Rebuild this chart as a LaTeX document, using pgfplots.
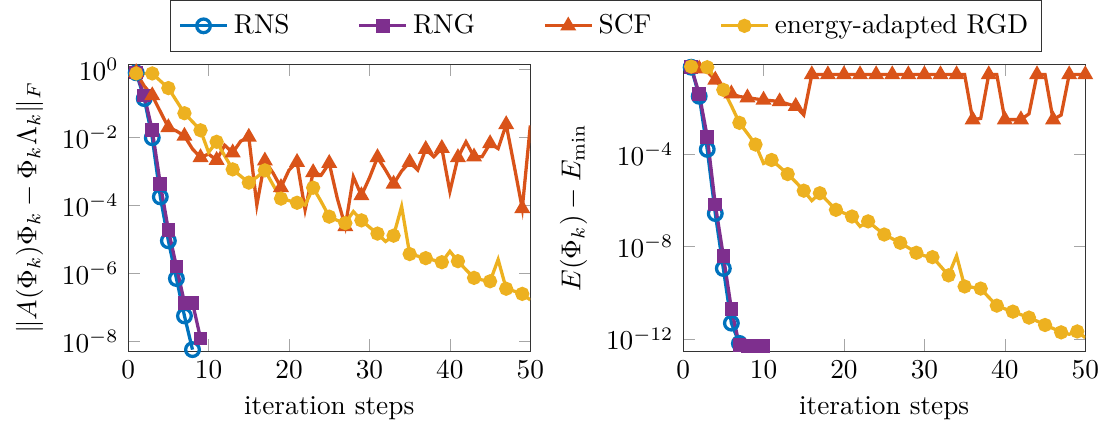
\documentclass[border=0pt]{standalone}
\usepackage{pgfplots}
\pgfplotsset{compat=1.18}
\definecolor{cBlue}{HTML}{0072BD}
\definecolor{cPurple}{HTML}{7E2F8E}
\definecolor{cOrange}{HTML}{D95319}
\definecolor{cYellow}{HTML}{EDB120}
\pgfplotsset{
  rns/.style={color=cBlue, line width=1.2pt, mark=o, mark size=2.5pt},
  rng/.style={color=cPurple, line width=1.2pt, mark=square*, mark size=1.9pt},
  scf/.style={color=cOrange, line width=1.2pt, mark=triangle*, mark size=2.2pt},
  rgd/.style={color=cYellow, line width=1.2pt, mark=*, mark size=2pt, mark repeat=2},
}
\begin{document}
\begin{tikzpicture}
% residual norm
\begin{axis}[
  scale only axis, width=147.4pt, height=105pt,
  xmin=0, xmax=50, xtick={0,10,...,50},
  ymode=log, yminorticks=false,
  axis line style={black!80}, major tick style={black!35},
  xlabel={iteration steps},
  ymin=5.1e-9, ymax=1.35,
  ytick={1,1e-2,1e-4,1e-6,1e-8},
  ylabel={$\|A(\Phi_k)\Phi_k-\Phi_k\Lambda_k\|_F$},
  legend columns=4,
  legend style={at={(1.1886,1.045)}, anchor=south, draw=black!80, inner ysep=3pt,
    /tikz/every even column/.append style={column sep=23pt}},
  legend cell align=left,
]
\addplot[rns] coordinates {
(1,7.76e-1) (2,1.35e-1) (3,9.55e-3) (4,1.74e-4) (5,8.91e-6) (6,6.92e-7) (7,5.50e-8) (8,5.62e-9)
};
\addlegendentry{RNS}
\addplot[rng] coordinates {
(1,7.94e-1) (2,1.66e-1) (3,1.58e-2) (4,4.17e-4) (5,1.86e-5) (6,1.58e-6) (7,1.35e-7) (8,1.35e-7) (9,1.20e-8)
};
\addlegendentry{RNG}
\addplot[scf, mark repeat=2] coordinates {
(1,7.94e-1) (2,3.16e-1) (3,1.66e-1) (4,5.62e-2) (5,1.91e-2) (6,1.51e-2) (7,1.07e-2) (8,4.47e-3) (9,2.51e-3) (10,3.16e-3)
(11,2.09e-3) (12,5.75e-3) (13,3.47e-3) (14,7.59e-3) (15,1.00e-2) (16,1.00e-4) (17,2.00e-3) (18,8.91e-4) (19,3.31e-4) (20,1.07e-3)
(21,1.82e-3) (22,7.24e-5) (23,9.12e-4) (24,7.59e-4) (25,1.70e-3) (26,1.58e-4) (27,2.34e-5) (28,6.76e-4) (29,1.91e-4) (30,6.31e-4)
(31,2.51e-3) (32,1.07e-3) (33,4.17e-4) (34,1.00e-3) (35,1.82e-3) (36,1.07e-3) (37,4.37e-3) (38,2.63e-3) (39,4.68e-3) (40,2.51e-4)
(41,2.51e-3) (42,7.24e-3) (43,2.63e-3) (44,2.63e-3) (45,6.46e-3) (46,4.57e-3) (47,2.34e-2) (48,1.41e-3) (49,7.94e-5) (50,2.19e-2)
};
\addlegendentry{SCF}
\addplot[rgd] coordinates {
(1,7.41e-1) (2,7.41e-1) (3,7.41e-1) (4,4.47e-1) (5,2.75e-1) (6,1.17e-1) (7,5.01e-2) (8,2.82e-2) (9,1.58e-2) (10,3.55e-3)
(11,7.24e-3) (12,2.82e-3) (13,1.12e-3) (14,7.08e-4) (15,4.57e-4) (16,6.61e-4) (17,1.05e-3) (18,3.98e-4) (19,1.55e-4) (20,1.35e-4)
(21,1.17e-4) (22,1.00e-4) (23,3.24e-4) (24,1.26e-4) (25,4.57e-5) (26,3.55e-5) (27,2.95e-5) (28,6.46e-5) (29,3.55e-5) (30,2.24e-5)
(31,1.45e-5) (32,8.51e-6) (33,1.26e-5) (34,9.12e-5) (35,3.63e-6) (36,3.16e-6) (37,2.75e-6) (38,2.40e-6) (39,2.09e-6) (40,4.37e-6)
(41,2.24e-6) (42,1.26e-6) (43,7.24e-7) (44,6.31e-7) (45,5.75e-7) (46,2.51e-6) (47,3.47e-7) (48,2.95e-7) (49,2.45e-7) (50,1.62e-7)
};
\addlegendentry{energy-adapted RGD}
\end{axis}
% energy error
\begin{axis}[at={(203.4pt,0pt)},
  scale only axis, width=147.4pt, height=105pt,
  xmin=0, xmax=50, xtick={0,10,...,50},
  ymode=log, yminorticks=false,
  axis line style={black!80}, major tick style={black!35},
  xlabel={iteration steps},
  ymin=2.95e-13, ymax=0.766,
  ytick={1e-4,1e-8,1e-12},
  ylabel={$E(\Phi_k)-E_{\min}$},
]
\addplot[rns] coordinates {
(1,5.89e-1) (2,3.24e-2) (3,1.62e-4) (4,2.69e-7) (5,1.12e-9) (6,4.79e-12) (7,6.31e-13)
};
\addplot[rng] coordinates {
(1,5.89e-1) (2,4.17e-2) (3,5.75e-4) (4,6.61e-7) (5,3.98e-9) (6,2.00e-11) (7,5.25e-13) (8,5.01e-13) (9,5.01e-13) (10,5.01e-13)
};
\addplot[scf, mark repeat=2, mark phase=2] coordinates {
(1,5.89e-1) (2,5.01e-1) (3,3.80e-1) (4,1.66e-1) (5,6.31e-2) (6,4.17e-2) (7,3.16e-2) (8,2.82e-2) (9,2.51e-2) (10,2.24e-2)
(11,2.09e-2) (12,1.91e-2) (13,1.51e-2) (14,1.20e-2) (15,5.01e-3) (16,2.82e-1) (17,2.82e-1) (18,2.82e-1) (19,2.82e-1) (20,2.82e-1)
(21,2.82e-1) (22,2.82e-1) (23,2.82e-1) (24,2.82e-1) (25,2.82e-1) (26,2.82e-1) (27,2.82e-1) (28,2.82e-1) (29,2.82e-1) (30,2.82e-1)
(31,2.82e-1) (32,2.82e-1) (33,2.82e-1) (34,2.82e-1) (35,2.82e-1) (36,3.16e-3) (37,3.55e-3) (38,2.82e-1) (39,2.82e-1) (40,3.16e-3)
(41,3.16e-3) (42,3.16e-3) (43,5.62e-3) (44,2.82e-1) (45,2.82e-1) (46,3.16e-3) (47,5.01e-3) (48,2.82e-1) (49,2.82e-1) (50,2.82e-1)
};
\addplot[rgd] coordinates {
(1,6.31e-1) (2,6.03e-1) (3,5.89e-1) (4,2.00e-1) (5,6.17e-2) (6,1.26e-2) (7,2.29e-3) (8,7.94e-4) (9,2.63e-4) (10,3.98e-5)
(11,5.62e-5) (12,2.82e-5) (13,1.38e-5) (14,6.31e-6) (15,2.63e-6) (16,9.77e-7) (17,2.04e-6) (18,8.91e-7) (19,3.89e-7) (20,2.82e-7)
(21,2.00e-7) (22,7.41e-8) (23,1.23e-7) (24,6.31e-8) (25,3.31e-8) (26,2.19e-8) (27,1.45e-8) (28,8.91e-9) (29,5.37e-9) (30,3.98e-9)
(31,3.47e-9) (32,1.41e-9) (33,5.62e-10) (34,3.98e-9) (35,1.86e-10) (36,1.70e-10) (37,1.51e-10) (38,6.31e-11) (39,2.75e-11) (40,2.00e-11)
(41,1.51e-11) (42,1.12e-11) (43,8.32e-12) (44,5.89e-12) (45,3.98e-12) (46,2.82e-12) (47,1.91e-12) (48,1.58e-12) (49,2.09e-12) (50,1.12e-12)
};
\end{axis}
\path ([xshift=-2.5pt]current bounding box.south west);
\end{tikzpicture}
\end{document}
